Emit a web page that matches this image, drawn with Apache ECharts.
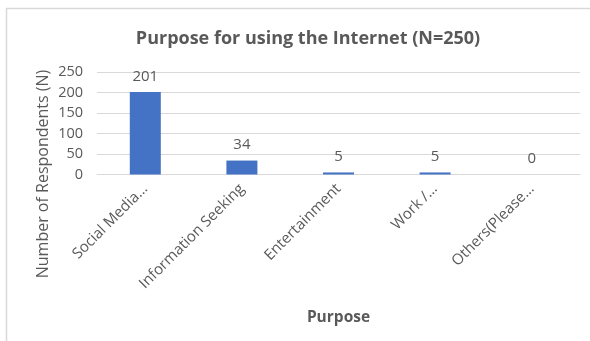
<!DOCTYPE html>
<html>
<head>
<meta charset="utf-8">
<script src="https://cdn.jsdelivr.net/npm/echarts@6/dist/echarts.min.js"></script>
<style>
  html, body { margin: 0; padding: 0; background: #fff; }
  #chart { width: 590px; height: 341px; }
</style>
</head>
<body>
<div id="chart"></div>
<script>
// Survey answers: main purpose for using the Internet
const categories = ['Social Media…', 'Information Seeking', 'Entertainment', 'Work /…', 'Others(Please…'];
const respondents = [201, 34, 5, 5, 0];
const yTicks = { min: 0, max: 250, interval: 50 };

const FONT = '"Open Sans", Lato, sans-serif';
const TEXT = '#595959';
const GRID = '#d9d9d9';

const chart = echarts.init(document.getElementById('chart'), null, { renderer: 'canvas' });

chart.setOption({
  backgroundColor: '#ffffff',
  animation: false,
  title: {
    text: 'Purpose for using the Internet (N=250)',
    left: 303,
    top: 25,
    textAlign: 'center',
    textStyle: { fontFamily: FONT, fontSize: 18, fontWeight: 'bold', color: TEXT }
  },
  grid: { left: 97, right: 10, top: 72, height: 102.5, containLabel: false },
  xAxis: {
    type: 'category',
    data: categories,
    name: 'Purpose',
    nameLocation: 'middle',
    nameGap: 135,
    nameTextStyle: { fontFamily: FONT, fontSize: 15.5, fontWeight: 'bold', color: TEXT },
    axisLine: { lineStyle: { color: GRID, width: 1 } },
    axisTick: { show: false },
    axisLabel: {
      rotate: 45,
      margin: 12,
      interval: 0,
      fontFamily: FONT,
      fontSize: 15,
      color: TEXT
    }
  },
  yAxis: {
    type: 'value',
    min: yTicks.min,
    max: yTicks.max,
    interval: yTicks.interval,
    axisLine: { show: false },
    axisTick: { show: false },
    splitLine: { lineStyle: { color: GRID, width: 1 } },
    axisLabel: { fontFamily: FONT, fontSize: 14.5, color: TEXT, margin: 14 }
  },
  series: [{
    type: 'bar',
    data: respondents,
    barWidth: 31,
    itemStyle: { color: '#4472c4' },
    label: {
      show: true,
      position: 'top',
      distance: 8,
      fontFamily: FONT,
      fontSize: 15,
      color: TEXT
    }
  }],
  graphic: [
    {
      type: 'rect',
      shape: { x: 6.5, y: 8.5, width: 700, height: 400 },
      style: { fill: 'none', stroke: GRID, lineWidth: 1.5 },
      silent: true
    },
    {
      type: 'text',
      x: 43,
      y: 174,
      rotation: Math.PI / 2,
      style: {
        text: 'Number of Respondents (N)',
        fontFamily: FONT,
        fontSize: 16,
        fill: TEXT,
        textAlign: 'center',
        textVerticalAlign: 'middle'
      }
    }
  ]
});
</script>
</body>
</html>
